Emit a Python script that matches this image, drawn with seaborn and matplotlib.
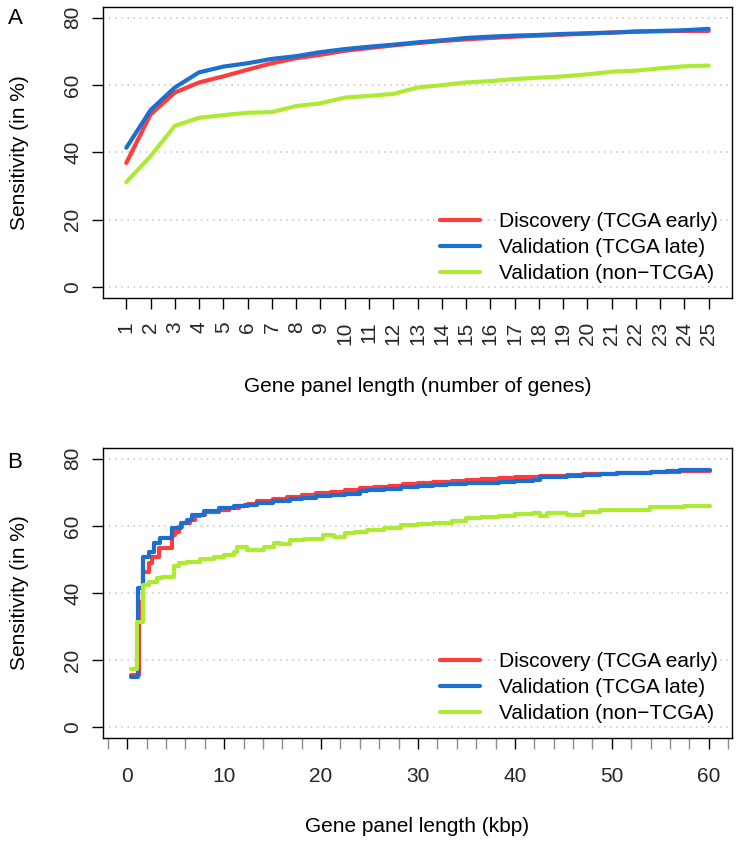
import matplotlib
matplotlib.use('Agg')
import matplotlib.pyplot as plt
from matplotlib.ticker import MultipleLocator
import pandas as pd
import seaborn as sns

sns.set_style('white')
plt.rcParams['font.family'] = ['Liberation Sans', 'DejaVu Sans']
plt.rcParams['text.color'] = 'black'
plt.rcParams['axes.edgecolor'] = 'black'

# ---- data, panel A (sensitivity vs number of genes)
genes = list(range(1, 26))
disc_a = [36.9, 51.3, 57.8, 60.8, 62.6, 64.6, 66.5, 68.0, 69.0, 70.2, 71.0, 71.8, 72.5,
          73.1, 73.6, 74.0, 74.4, 74.7, 75.0, 75.3, 75.6, 75.9, 76.0, 76.1, 76.1]
late_a = [41.4, 52.6, 59.3, 63.8, 65.5, 66.5, 67.8, 68.6, 69.8, 70.7, 71.4, 72.0, 72.7,
          73.3, 74.0, 74.4, 74.7, 74.9, 75.2, 75.4, 75.6, 75.9, 76.1, 76.3, 76.7]
nontcga_a = [31.2, 38.9, 47.9, 50.3, 51.1, 51.8, 52.0, 53.8, 54.6, 56.3, 56.8, 57.4, 59.3,
             60.0, 60.8, 61.2, 61.8, 62.2, 62.6, 63.2, 64.0, 64.3, 65.0, 65.6, 65.8]

# ---- data, panel B (sensitivity vs panel length in kbp), step points
disc_kbp = [0.41, 1.20, 1.61, 2.2, 2.6, 3.3, 4.64, 4.98, 5.32, 5.67, 6.52, 7.0, 7.56, 8.07,
            9.45, 10.5, 11.5, 12.5, 13.4, 15.0, 16.5, 18.0, 19.5, 21.0, 22.5, 24.0, 25.5,
            27.0, 28.5, 30.0, 31.6, 33.5, 35.0, 36.5, 38.4, 40.0, 42.6, 45.4, 47.0, 48.8,
            50.5, 52.2, 54.0, 57.0, 60.1]
disc_b = [15.5, 37.4, 46.2, 48.9, 50.8, 53.3, 57.3, 58.3, 59.8, 60.8, 61.8, 62.8, 63.3, 64.0,
          64.8, 65.3, 65.8, 66.5, 67.3, 67.9, 68.5, 69.3, 69.7, 70.2, 70.7, 71.2, 71.6,
          72.0, 72.4, 72.8, 73.2, 73.5, 73.8, 74.0, 74.2, 74.5, 74.9, 75.2, 75.4, 75.6,
          75.8, 75.9, 76.0, 76.2, 76.2]
late_kbp = [0.41, 1.13, 1.65, 2.23, 2.75, 3.43, 4.64, 5.5, 6.18, 6.7, 7.9, 9.45, 11.0, 12.2,
            13.4, 15.0, 16.8, 18.0, 19.5, 21.0, 22.5, 24.0, 24.7, 26.5, 28.2, 30.0, 31.6,
            33.0, 35.0, 36.5, 38.4, 40.0, 41.9, 42.6, 44.0, 45.4, 47.0, 48.8, 50.5, 52.2,
            54.0, 55.7, 57.0, 60.1]
late_b = [15.0, 41.4, 50.8, 52.3, 54.8, 56.3, 59.3, 60.8, 61.8, 63.3, 64.3, 65.3, 65.8, 66.3,
          66.8, 67.4, 68.0, 68.3, 68.8, 69.2, 69.6, 70.3, 70.7, 71.0, 71.5, 71.8, 72.2,
          72.4, 72.7, 72.9, 73.2, 73.4, 73.7, 74.5, 74.7, 74.9, 75.2, 75.5, 75.7, 75.9,
          76.0, 76.2, 76.7, 76.7]
nontcga_kbp = [0.41, 1.03, 1.61, 2.23, 3.09, 3.6, 4.81, 5.32, 6.18, 7.56, 8.93, 9.96, 10.99,
               11.3, 12.4, 14.1, 15.1, 15.8, 16.8, 18.2, 20.2, 21.3, 22.5, 23.5, 24.7, 26.5,
               28.2, 30.0, 31.6, 33.5, 35.0, 36.5, 38.4, 40.0, 41.9, 42.6, 43.3, 45.4, 47.0,
               48.8, 50.5, 52.2, 53.9, 57.4, 60.1]
nontcga_b = [17.4, 31.4, 42.3, 43.3, 44.4, 44.9, 47.9, 48.9, 49.3, 50.0, 50.8, 51.3, 52.3,
             53.8, 52.8, 53.8, 55.0, 54.5, 55.7, 56.0, 57.3, 56.8, 57.8, 58.2, 58.8, 59.5,
             60.3, 60.6, 61.0, 61.5, 62.3, 62.6, 63.0, 63.4, 63.8, 62.8, 63.8, 63.3, 64.0,
             64.8, 64.6, 64.8, 65.6, 65.8, 65.8]

names = ['Discovery (TCGA early)', 'Validation (TCGA late)', 'Validation (non\u2212TCGA)']
colors = ['#ff3b3b', '#1a6fd0', '#aeea34']

fig = plt.figure(figsize=(7.41, 8.46), dpi=100)
W, H = 741, 846
L, R = 103, 732


def make_ax(top, bottom):
    return fig.add_axes([L / W, 1 - bottom / H, (R - L) / W, (bottom - top) / H])


def style_ax(ax):
    ax.set_ylim(-3.2, 83.2)
    ax.set_yticks([0, 20, 40, 60, 80])
    for y in [0, 20, 40, 60, 80]:
        ax.axhline(y, color='#c4c4c4', lw=1.1, ls=(0, (1, 3)), zorder=0)
    for s in ax.spines.values():
        s.set_color('black')
        s.set_linewidth(1.0)
    ax.tick_params(axis='both', which='major', direction='out', length=8, width=1,
                   color='black', labelsize=15, bottom=True, left=True)
    ax.tick_params(axis='y', pad=7)
    for t in ax.get_yticklabels():
        t.set_rotation(90)
        t.set_va('center')
    ax.set_xlabel('')
    ax.set_ylabel('')
    ax.legend(loc='lower right', frameon=False, fontsize=15, handlelength=1.9,
              handletextpad=0.9, labelspacing=0.35, borderaxespad=0.4, borderpad=0.3)


# ---- panel A
axA = make_ax(7, 298)
dfA = pd.DataFrame({'genes': genes, names[0]: disc_a, names[1]: late_a, names[2]: nontcga_a})
for n, c in zip(names, colors):
    sns.lineplot(data=dfA, x='genes', y=n, color=c, lw=3, label=n, ax=axA)
axA.set_xlim(0.04, 25.96)
axA.set_xticks(genes)
style_ax(axA)
axA.tick_params(axis='x', pad=9)
for t in axA.get_xticklabels():
    t.set_rotation(90)

# ---- panel B
axB = make_ax(448, 738)
series_b = [(disc_kbp, disc_b), (late_kbp, late_b), (nontcga_kbp, nontcga_b)]
for (xs, ys), n, c in zip(series_b, names, colors):
    dfB = pd.DataFrame({'kbp': xs, 'sens': ys})
    sns.lineplot(data=dfB, x='kbp', y='sens', color=c, lw=3, label=n,
                 drawstyle='steps-post', ax=axB)
axB.set_xlim(-2.5, 62.4)
axB.set_xticks([0, 10, 20, 30, 40, 50, 60])
axB.xaxis.set_minor_locator(MultipleLocator(2))
style_ax(axB)
axB.tick_params(axis='x', which='minor', direction='out', length=8, width=1,
                color='#8c8c8c', bottom=True)
axB.tick_params(axis='x', which='major', pad=13)

# ---- text
fig.text(20 / W, 1 - 152.5 / H, 'Sensitivity (in %)', rotation=90, ha='center', va='center', fontsize=15)
fig.text(20 / W, 1 - 593 / H, 'Sensitivity (in %)', rotation=90, ha='center', va='center', fontsize=15)
fig.text((L + R) / 2 / W, 1 - 387 / H, 'Gene panel length (number of genes)', ha='center', va='center', fontsize=15)
fig.text((L + R) / 2 / W, 1 - 826 / H, 'Gene panel length (kbp)', ha='center', va='center', fontsize=15)
fig.text(15 / W, 1 - 18 / H, 'A', ha='center', va='center', fontsize=16)
fig.text(15 / W, 1 - 462 / H, 'B', ha='center', va='center', fontsize=16)

fig.savefig('out.png', dpi=100)
